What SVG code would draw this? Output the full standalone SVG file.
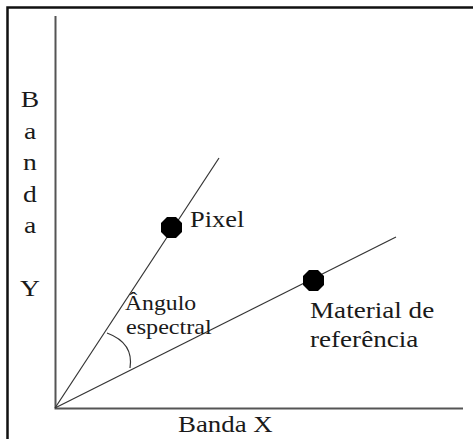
<svg xmlns="http://www.w3.org/2000/svg" width="473" height="439" viewBox="0 0 473 439">
<style>
.t{font-family:"Liberation Serif","Times New Roman",serif;fill:#1a1a1a;font-size:24px;}
.s{font-size:21px;}
.ax{stroke:#555;stroke-width:2;fill:none;}
.ln{stroke:#333;stroke-width:1.2;fill:none;}
</style>
<rect width="473" height="439" fill="#fff"/>
<g id="frame">
<path d="M7.5,439 V7.5 H473" fill="none" stroke="#111" stroke-width="2.5"/>
</g>
<g id="axes">
<path class="ax" d="M55.5,16 V408.5 H463"/>
</g>
<g id="connectors">
<line class="ln" x1="55" y1="408" x2="219" y2="158"/>
<line class="ln" x1="55" y1="408" x2="396" y2="237"/>
<path class="ln" d="M107,333 Q134,343 130,368"/>
</g>
<g id="ylabel">
<text class="t" text-anchor="middle" transform="translate(30,107) scale(1.15,1)">B</text>
<text class="t" text-anchor="middle" transform="translate(30,139) scale(1.15,1)">a</text>
<text class="t" text-anchor="middle" transform="translate(30,170) scale(1.15,1)">n</text>
<text class="t" text-anchor="middle" transform="translate(30,202) scale(1.15,1)">d</text>
<text class="t" text-anchor="middle" transform="translate(30,233) scale(1.15,1)">a</text>
<text class="t" text-anchor="middle" transform="translate(30,296) scale(1.15,1)">Y</text>
</g>
<g id="xlabel">
<text class="t" transform="translate(178,432) scale(1.12,1)">Banda X</text>
</g>
<g id="pixel">
<polygon points="176,217 182,223 182,232 176,238 167,238 161,232 161,223 167,217" fill="#000"/>
<text class="t" transform="translate(190,227) scale(1.1,1)">Pixel</text>
</g>
<g id="material">
<polygon points="318,270 324,276 324,285 318,291 309,291 303,285 303,276 309,270" fill="#000"/>
<text class="t" transform="translate(310,318) scale(1.13,1)">Material de</text>
<text class="t" transform="translate(310,347) scale(1.13,1)">referência</text>
</g>
<g id="angle">
<text class="t s" transform="translate(125,310) scale(1.13,1)">Ângulo</text>
<text class="t s" transform="translate(126,334) scale(1.15,1)">espectral</text>
</g>
</svg>
